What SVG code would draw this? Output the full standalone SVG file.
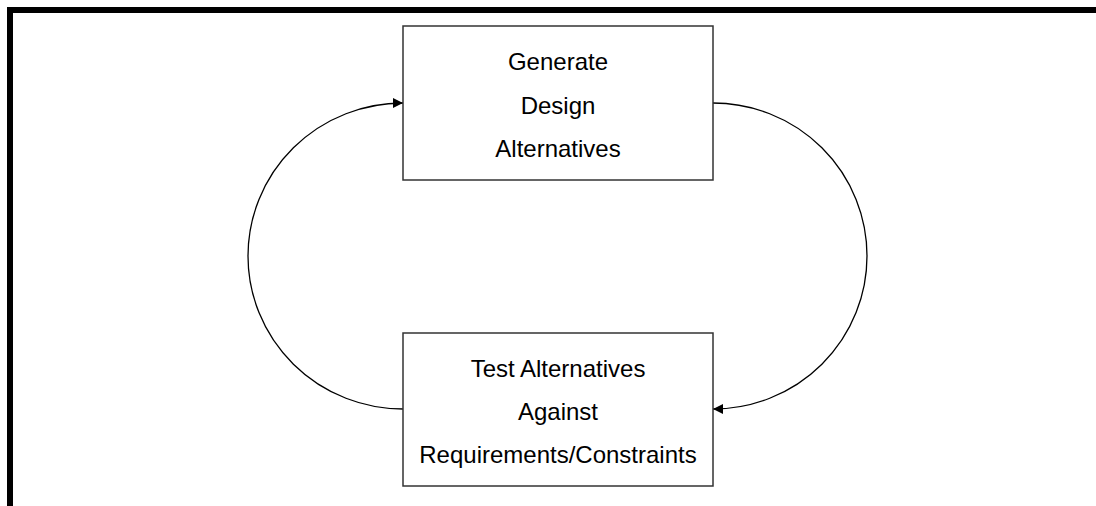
<svg xmlns="http://www.w3.org/2000/svg" width="1096" height="506" viewBox="0 0 1096 506">
<style>
.box{fill:#fff;stroke:#333;stroke-width:1.5}
.t{font-family:"Liberation Sans",Arial,sans-serif;font-size:24px;text-anchor:middle;fill:#000}
.c{fill:none;stroke:#000;stroke-width:1.3}
</style>
<defs>
<marker id="ah" viewBox="0 0 10 10" refX="10" refY="5" markerWidth="10" markerHeight="10" markerUnits="userSpaceOnUse" orient="auto">
<path d="M0,0 L10,5 L0,10 Z" fill="#000"/>
</marker>
</defs>
<rect width="1096" height="506" fill="#fff"/>
<g id="frame">
<rect x="7" y="7" width="1089" height="6" fill="#000"/>
<rect x="7" y="7" width="6" height="499" fill="#000"/>
</g>
<g id="connectors">
<path class="c" d="M403,409 A155,153 0 0 1 403,103" marker-end="url(#ah)"/>
<path class="c" d="M713,103 A154,153 0 0 1 713,409" marker-end="url(#ah)"/>
</g>
<g id="generate">
<rect class="box" x="403" y="26" width="310" height="154"/>
<text class="t" x="558" y="70">Generate</text>
<text class="t" x="558" y="114">Design</text>
<text class="t" x="558" y="157">Alternatives</text>
</g>
<g id="test">
<rect class="box" x="403" y="333" width="310" height="153"/>
<text class="t" x="558" y="377">Test Alternatives</text>
<text class="t" x="558" y="420">Against</text>
<text class="t" x="558" y="463">Requirements/Constraints</text>
</g>
</svg>
